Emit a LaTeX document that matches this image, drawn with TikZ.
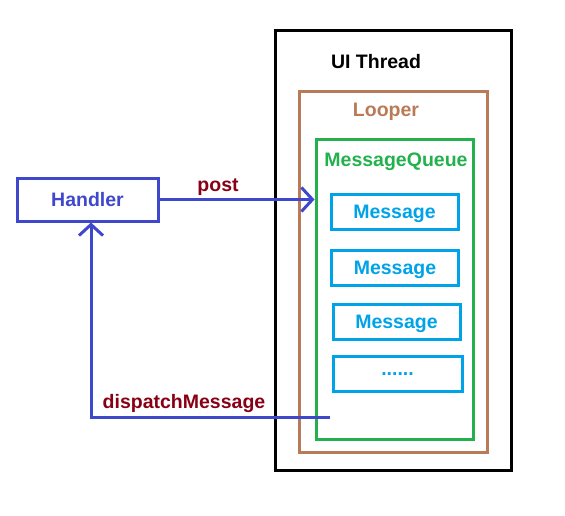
\documentclass[tikz,border=0pt]{standalone}
\usepackage{fontspec}
\setmainfont{Liberation Sans}
\usepackage{tikz}
\usetikzlibrary{arrows.meta}

\definecolor{hblue}{RGB}{63,72,204}
\definecolor{lblred}{RGB}{136,0,21}
\definecolor{lbrown}{RGB}{185,122,87}
\definecolor{qgreen}{RGB}{34,177,76}
\definecolor{mcyan}{RGB}{0,162,232}

\begin{document}
\begin{tikzpicture}[x=1pt,y=-1pt,line width=3pt,
  font=\fontsize{19.5}{20}\selectfont\bfseries]
  \tikzset{every node/.style={text depth=0pt},
           box/.style={draw,minimum width=#1,inner sep=0pt},
           msg/.style={box=127pt,draw=mcyan,text=mcyan,minimum height=35pt},
           tip/.style={-{Straight Barb[length=11pt,width=24pt,line width=3pt]}}}
  \useasboundingbox (0,0) rectangle (565,516);
  % containers
  \node [box=236pt,minimum height=439pt] (thread) at (393,250.5) {};
  \node [box=188pt,minimum height=360pt,draw=lbrown] (looper) at (393,272) {};
  \node [box=157pt,minimum height=299pt,draw=qgreen] (queue) at (394.5,289.5) {};
  \node (threadlbl) at (376,61) {UI Thread};
  \node [text=lbrown] (looperlbl) at (386,110) {Looper};
  \node [text=qgreen] (queuelbl) at (396,160) {MessageQueue};
  % messages
  \node [msg] (m1) at (394.5,211.5) {Message};
  \node [msg] (m2) at (395,267.5) {Message};
  \node [msg] (m3) at (396.5,322) {Message};
  \node [msg,minimum width=129pt] (m4) at (397.5,374) {......};
  % handler
  \node [box=141pt,minimum height=43pt,draw=hblue,text=hblue] (handler) at (87.5,199.5) {Handler};
  \draw [tip,hblue] (handler.east) -- (handler.east -| queue.west);
  \node [text=lblred] (postlbl) at (218,185) {post};
  \coordinate (dsp) at (330,417);
  \draw [tip,hblue] (dsp) -| ([xshift=3.5pt]handler.south);
  \node [text=lblred] (dsplbl) at (184,401) {dispatchMessage};
\end{tikzpicture}
\end{document}
